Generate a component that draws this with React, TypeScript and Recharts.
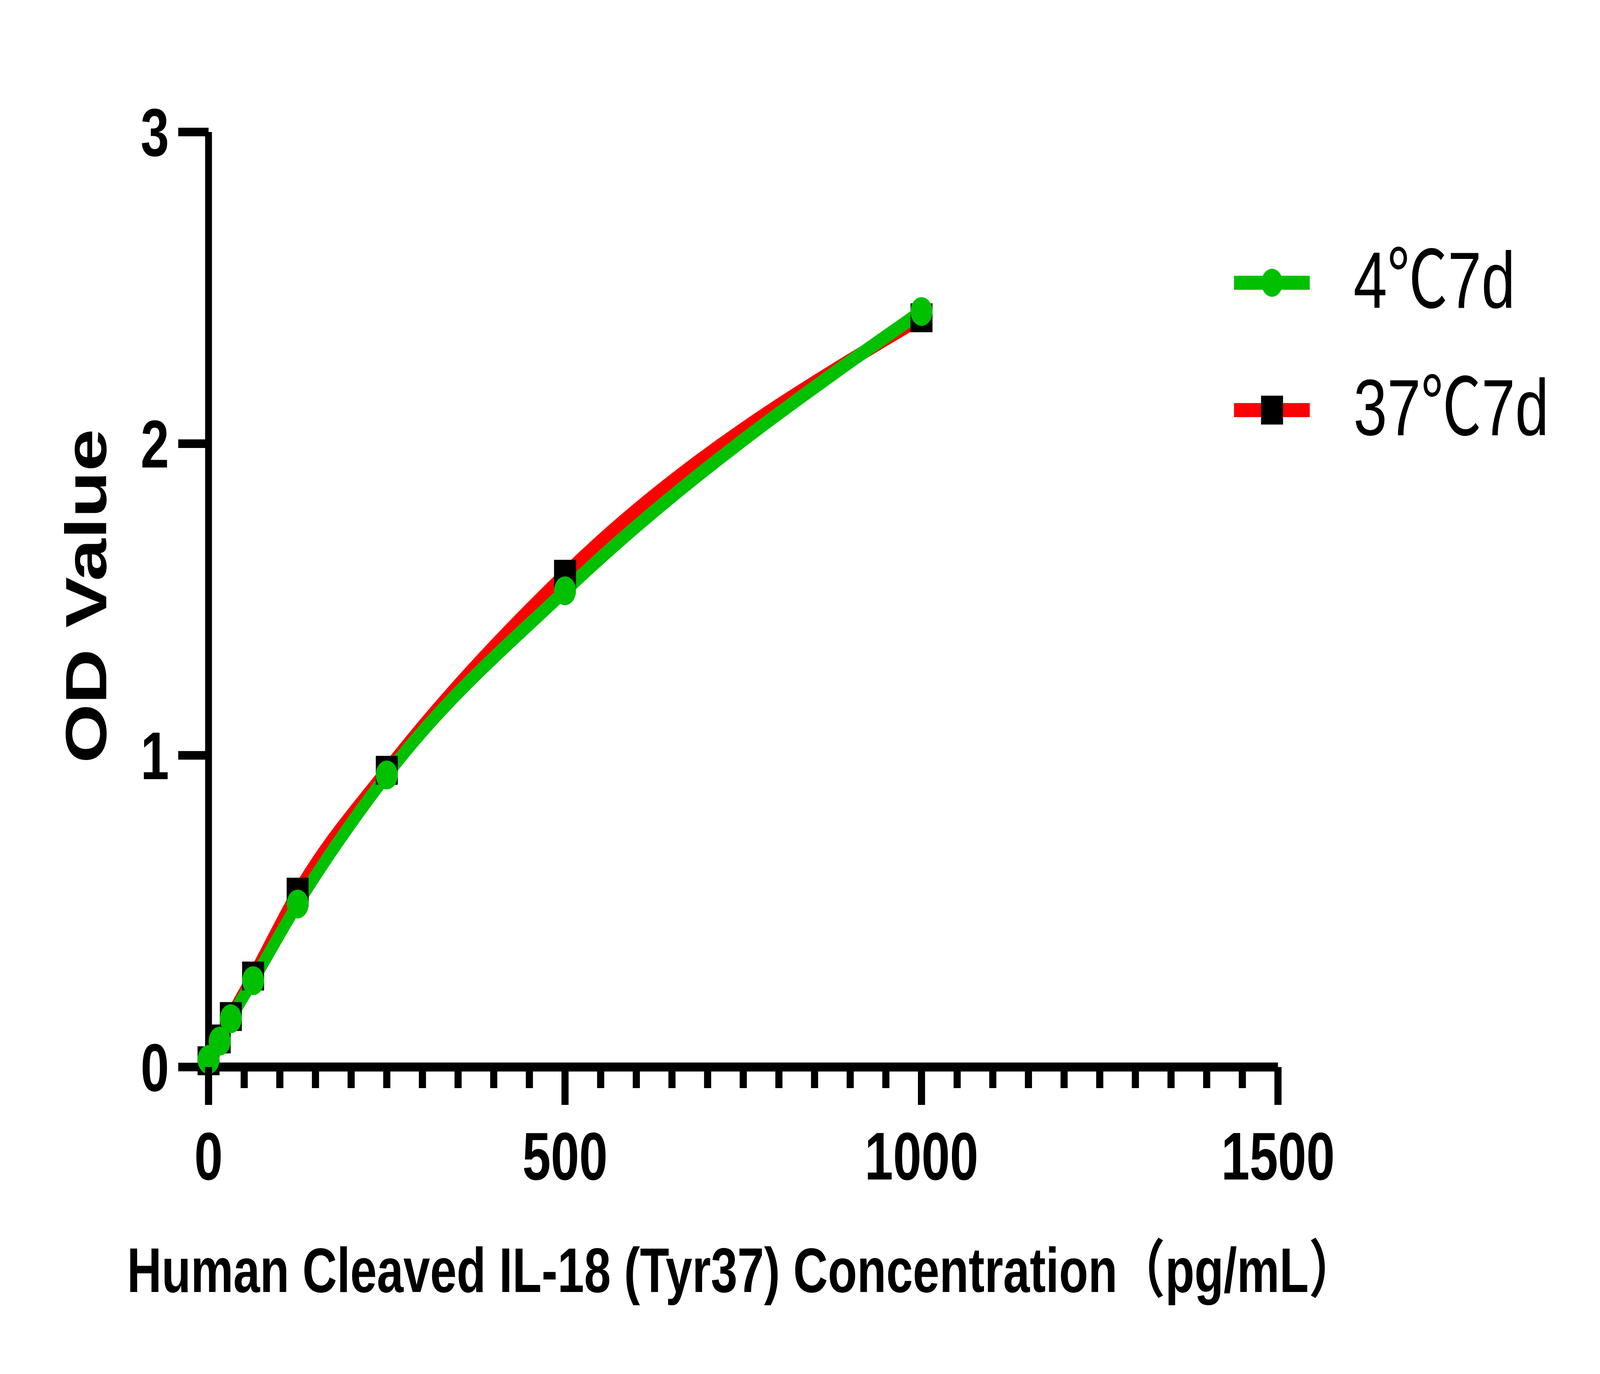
import { ComposedChart, Line, XAxis, YAxis, Legend } from 'recharts'

// standard curve concentrations (pg/mL) and OD readings
const concentrations = [0, 15.63, 31.25, 62.5, 125, 250, 500, 1000]
const od4C7d = [0.024, 0.083, 0.155, 0.277, 0.523, 0.937, 1.528, 2.424]
const od37C7d = [0.02, 0.09, 0.162, 0.292, 0.561, 0.952, 1.581, 2.404]

const seriesNames = ['4℃7d', '37℃7d']
const yTicks = [0, 1, 2, 3]
const xMajorTicks = [0, 500, 1000, 1500]
const xMinorStep = 50

const W = 5386
const H = 3518
const GREEN = '#00c000'
const RED = '#ff0000'
const FONT = '"Liberation Sans", Arial, "Noto Sans CJK SC", sans-serif'

const data = concentrations.map((conc, i) => ({
  conc,
  d4: od4C7d[i],
  d37: od37C7d[i],
}))

const xTicks: number[] = []
for (let v = 0; v <= xMajorTicks[xMajorTicks.length - 1]; v += xMinorStep) xTicks.push(v)

function XTick({ x, y, payload }: any) {
  const major = xMajorTicks.includes(payload.value)
  return (
    <g>
      <line x1={x} x2={x} y1={y} y2={y + (major ? 97 : 54)} stroke="#000" strokeWidth={24} />
      {major && (
        <text
          x={x}
          y={y + 166}
          dy="0.71em"
          textAnchor="middle"
          fill="#000"
          fontSize={172}
          fontWeight={700}
          fontFamily={FONT}
        >
          {payload.value}
        </text>
      )}
    </g>
  )
}

function SquareDot({ cx, cy, index }: any) {
  return <rect key={`sq-${index}`} x={cx - 37} y={cy - 37} width={74} height={74} fill="#000" />
}

function CircleDot({ cx, cy, index }: any) {
  return <circle key={`ci-${index}`} cx={cx} cy={cy} r={37} fill={GREEN} />
}

function LegendBox() {
  const rows = [
    { name: seriesNames[0], color: GREEN, y: 164, marker: 'circle' },
    { name: seriesNames[1], color: RED, y: 490, marker: 'square' },
  ]
  return (
    <svg width={1200} height={620}>
      {rows.map((r) => (
        <g key={r.name}>
          <line x1={54} x2={309} y1={r.y} y2={r.y} stroke={r.color} strokeWidth={36} />
          {r.marker === 'circle' ? (
            <circle cx={182} cy={r.y} r={36} fill={GREEN} />
          ) : (
            <rect x={145} y={r.y - 37} width={74} height={74} fill="#000" />
          )}
          <text x={456} y={r.y + 64} fontSize={204} fontFamily={FONT} fill="#000">
            {r.name}
          </text>
        </g>
      ))}
    </svg>
  )
}

export default function App() {
  // the browser caps the window below 5386 wide, so map the 5386x3518 drawing onto what it gives
  const vw = typeof window !== 'undefined' ? window.innerWidth : W
  const vh = typeof window !== 'undefined' ? window.innerHeight : H
  const sx = Math.min(1, vw / W)
  const sy = Math.min(1, vh / H)

  return (
    <div style={{ width: W * sx, height: H * sy, overflow: 'hidden', background: '#fff' }}>
      <style>{'body{margin:0}'}</style>
      <div style={{ width: W, height: H, transform: `scale(${sx}, ${sy})`, transformOrigin: '0 0' }}>
        <ComposedChart
          width={W}
          height={H}
          data={data}
          margin={{ top: 338, right: 1084, bottom: 0, left: 0 }}
        >
          <XAxis
            dataKey="conc"
            type="number"
            domain={[0, 1500]}
            ticks={xTicks}
            interval={0}
            height={786}
            tickSize={0}
            tickMargin={0}
            tickLine={false}
            axisLine={{ stroke: '#000', strokeWidth: 23 }}
            tick={<XTick />}
            label={{
              content: () => (
                <text
                  x={2497}
                  y={3308}
                  textAnchor="middle"
                  fontSize={161}
                  fontWeight={700}
                  fontFamily={FONT}
                  fill="#000"
                >
                  Human Cleaved IL-18 (Tyr37) Concentration（pg/mL）
                </text>
              ),
            }}
          />
          <YAxis
            type="number"
            domain={[0, 3]}
            ticks={yTicks}
            interval={0}
            width={702}
            tickSize={102}
            tickMargin={31}
            tickLine={{ stroke: '#000', strokeWidth: 22 }}
            axisLine={{ stroke: '#000', strokeWidth: 23 }}
            tick={{ fill: '#000', fontSize: 172, fontWeight: 700, fontFamily: FONT }}
            label={{
              content: () => (
                <text
                  x={358}
                  y={1526}
                  transform="rotate(-90 358 1526)"
                  textAnchor="middle"
                  fontSize={195}
                  fontWeight={700}
                  fontFamily={FONT}
                  fill="#000"
                >
                  OD Value
                </text>
              ),
            }}
          />
          <Legend
            layout="vertical"
            align="center"
            verticalAlign="middle"
            wrapperStyle={{ position: 'absolute', left: 4100, top: 560, width: 1200, height: 620 }}
            content={() => <LegendBox />}
          />
          <Line
            dataKey="d37"
            name={seriesNames[1]}
            type="monotone"
            stroke={RED}
            strokeWidth={36}
            dot={false}
            activeDot={false}
            isAnimationActive={false}
          />
          <Line
            dataKey="d4"
            name={seriesNames[0]}
            type="monotone"
            stroke={GREEN}
            strokeWidth={36}
            dot={false}
            activeDot={false}
            isAnimationActive={false}
          />
          <Line
            dataKey="d37"
            stroke="none"
            dot={<SquareDot />}
            activeDot={false}
            legendType="none"
            isAnimationActive={false}
          />
          <Line
            dataKey="d4"
            stroke="none"
            dot={<CircleDot />}
            activeDot={false}
            legendType="none"
            isAnimationActive={false}
          />
        </ComposedChart>
      </div>
    </div>
  )
}
